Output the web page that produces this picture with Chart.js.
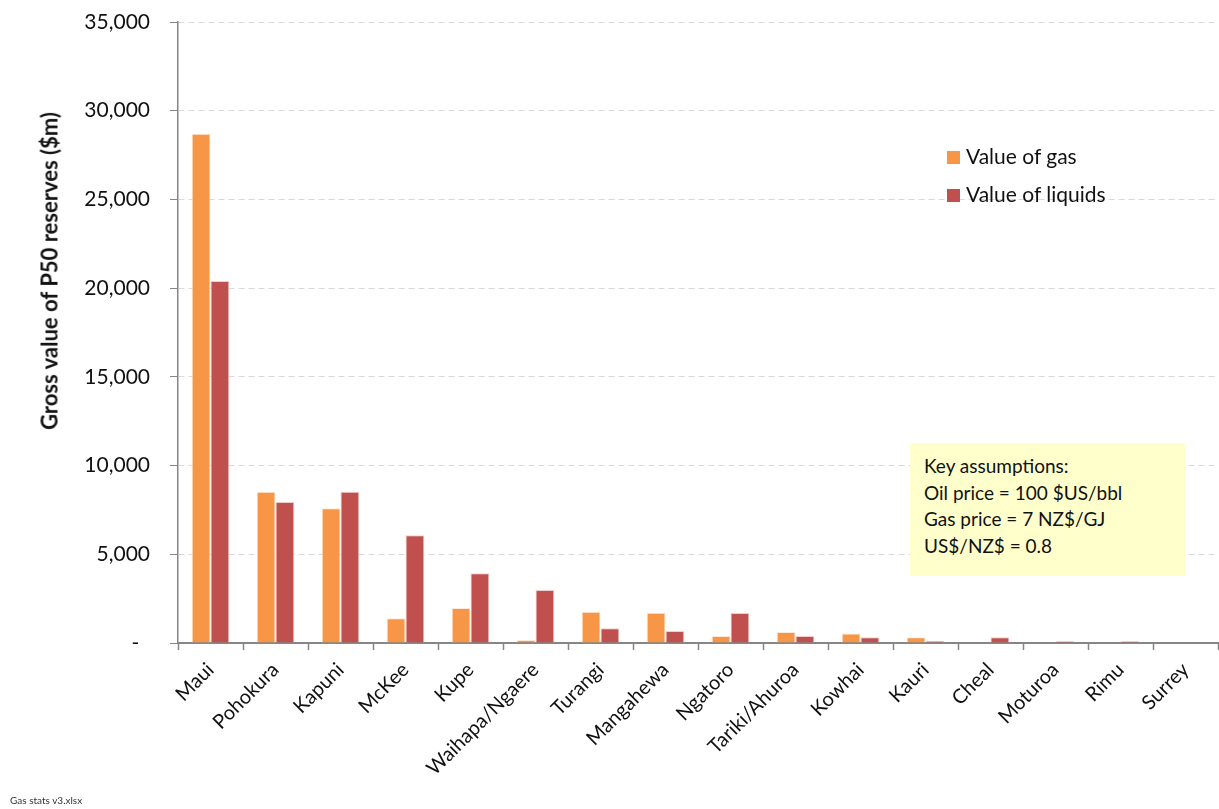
<!DOCTYPE html>
<html>
<head>
<meta charset="utf-8">
<script src="https://cdn.jsdelivr.net/npm/chart.js@4/dist/chart.umd.min.js"></script>
<style>
  html, body { margin: 0; padding: 0; background: #fff; }
  body { width: 1219px; height: 809px; position: relative; overflow: hidden; font-family: "Lato", "Open Sans", sans-serif; }
  #wrap { position: absolute; left: 0; top: 0; width: 1219px; height: 809px; }
  .ytitle {
    position: absolute; left: 49px; top: 271px;
    transform: translate(-50%, -50%) rotate(-90deg);
    white-space: nowrap; font-weight: bold; font-size: 22px; color: #111;
  }
  .legend { position: absolute; left: 947px; font-size: 21px; color: #111; white-space: nowrap; }
  .legend span { display: inline-block; width: 13px; height: 13px; margin-right: 6px; vertical-align: 0px; }
  .note {
    position: absolute; left: 910px; top: 443px; width: 275px; height: 133px;
    background: #ffffcc; box-sizing: border-box; padding: 10px 0 0 14px;
    font-size: 19px; line-height: 26.5px; color: #111;
  }
  .foot { position: absolute; left: 10px; top: 794px; font-size: 10px; color: #333; }
</style>
</head>
<body>
<div id="wrap"><canvas id="chart" width="1219" height="809"></canvas></div>
<div class="ytitle">Gross value of P50 reserves ($m)</div>
<div class="legend" style="top:143px"><span style="background:#f79646"></span>Value of gas</div>
<div class="legend" style="top:181px"><span style="background:#c0504d"></span>Value of liquids</div>
<div class="note">Key assumptions:<br>Oil price = 100 $US/bbl<br>Gas price = 7 NZ$/GJ<br>US$/NZ$ = 0.8</div>
<div class="foot">Gas stats v3.xlsx</div>
<script>
const fields = ["Maui", "Pohokura", "Kapuni", "McKee", "Kupe", "Waihapa/Ngaere", "Turangi",
  "Mangahewa", "Ngatoro", "Tariki/Ahuroa", "Kowhai", "Kauri", "Cheal", "Moturoa", "Rimu", "Surrey"]
const gasValue = [28700, 8530, 7590, 1390, 1970, 170, 1760, 1700, 390, 620, 540, 320, 0, 0, 0, 0]
const liquidsValue = [20400, 7950, 8530, 6070, 3930, 2990, 830, 680, 1690, 390, 320, 110, 320, 100, 100, 0]
const yTicks = [0, 5000, 10000, 15000, 20000, 25000, 30000, 35000]

const font = "Lato, 'Open Sans', sans-serif"

new Chart(document.getElementById("chart").getContext("2d"), {
  type: "bar",
  data: {
    labels: fields,
    datasets: [{
      label: "Value of gas",
      data: gasValue,
      backgroundColor: "#f79646",
      borderColor: "rgba(255,230,210,0.9)",
      borderWidth: 1
    }, {
      label: "Value of liquids",
      data: liquidsValue,
      backgroundColor: "#c0504d",
      borderColor: "rgba(240,200,200,0.9)",
      borderWidth: 1
    }]
  },
  options: {
    responsive: false,
    animation: false,
    layout: { padding: { left: 0, top: 22, right: 1, bottom: 0 } },
    datasets: { bar: { categoryPercentage: 0.58, barPercentage: 1 } },
    plugins: {
      legend: { display: false },
      tooltip: { enabled: false }
    },
    scales: {
      x: {
        grid: {
          offset: true,
          drawOnChartArea: false,
          tickLength: 7,
          tickColor: "#868686",
          tickWidth: 1.5
        },
        border: { color: "#868686", width: 2 },
        ticks: {
          minRotation: 45,
          maxRotation: 45,
          padding: 8,
          color: "#111",
          font: { family: font, size: 20 }
        },
        afterFit: (scale) => { scale.height = 166 }
      },
      y: {
        min: 0,
        max: 35000,
        afterBuildTicks: (scale) => { scale.ticks = yTicks.map(v => ({ value: v })) },
        grid: {
          color: "#d9d9d9",
          tickColor: "#868686",
          tickLength: 8,
          tickBorderDash: [],
          lineWidth: 1
        },
        border: { color: "#868686", width: 1.5, dash: [6, 4] },
        ticks: {
          padding: 20,
          color: "#111",
          font: { family: font, size: 21 },
          callback: (v) => v === 0 ? "-  " : v.toLocaleString("en-US")
        },
        afterFit: (scale) => {
          scale.width = 178
          scale.paddingTop = 0
          scale.paddingBottom = 0
        }
      }
    }
  }
})
</script>
</body>
</html>
